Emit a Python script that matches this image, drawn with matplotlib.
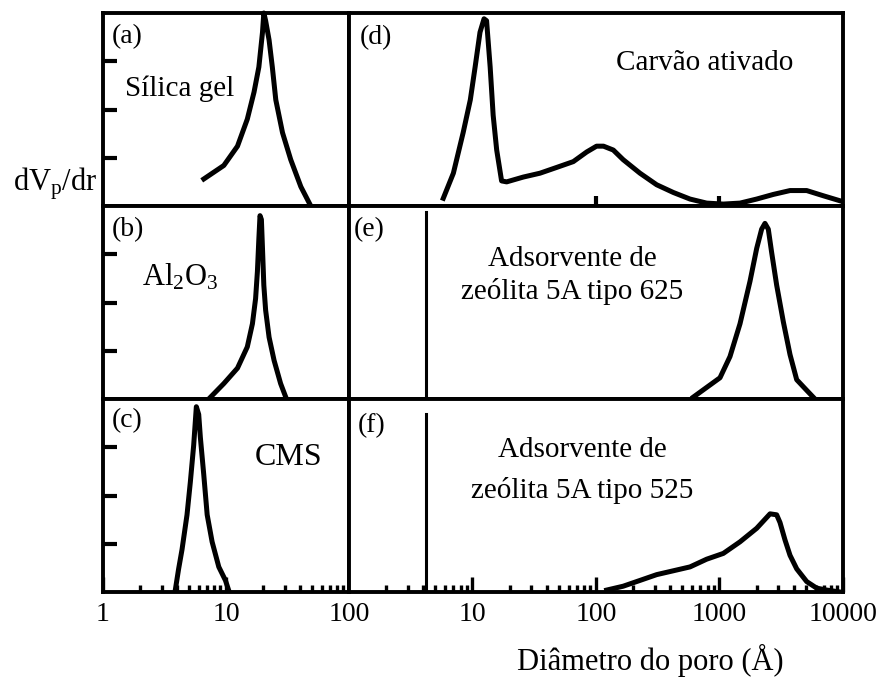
import matplotlib
matplotlib.use("Agg")
import matplotlib.pyplot as plt
from matplotlib.ticker import FixedLocator, NullFormatter, NullLocator

plt.rcParams["font.family"] = ["Liberation Serif", "DejaVu Serif"]
plt.rcParams["mathtext.fontset"] = "custom"
plt.rcParams["mathtext.rm"] = "Liberation Serif"
plt.rcParams["mathtext.it"] = "Liberation Serif"

# -----------------------------------------------------
# DATA (normalised dV/dr)
# -----------------------------------------------------

# (a) silica gel
a_x = [6.6, 9.6, 12.4, 14.9, 16.9, 18.5, 19.8, 20.3, 21.0, 22.4, 23.8, 25.4, 28.8, 33.6, 40.6, 48.9]
a_y = [0.14, 0.21, 0.31, 0.45, 0.59, 0.72, 0.90, 1.00, 0.96, 0.86, 0.72, 0.55, 0.38, 0.24, 0.10, 0.0]

# (b) Al2O3
b_x = [7.5, 9.6, 12.4, 14.9, 16.4, 17.4, 18.0, 18.5, 18.9, 19.4, 19.8, 20.3, 21.0, 22.4, 24.6, 27.8, 30.6]
b_y = [0.01, 0.08, 0.16, 0.27, 0.39, 0.52, 0.66, 0.83, 0.95, 0.93, 0.78, 0.59, 0.46, 0.32, 0.20, 0.08, 0.01]

# (c) CMS
c_x = [3.87, 4.12, 4.39, 4.82, 5.13, 5.46, 5.64, 5.74, 6.0, 6.19, 6.59, 7.03, 7.71, 8.74, 9.9, 10.5]
c_y = [0.01, 0.12, 0.22, 0.40, 0.57, 0.76, 0.89, 0.96, 0.92, 0.80, 0.61, 0.40, 0.26, 0.13, 0.06, 0.01]

# (d) activated carbon
d_x = [5.8, 7.0, 8.4, 9.6, 10.5, 11.5, 12.4, 13.0, 13.9, 14.7, 15.7, 17.2, 18.9, 25.8, 35.2,
       48.1, 65.5, 84.1, 101, 115, 138, 166, 227, 310, 423, 577, 787, 1074, 1466, 2000,
       2729, 3724, 5082, 6934, 9460]
d_y = [0.04, 0.17, 0.38, 0.55, 0.72, 0.90, 0.97, 0.96, 0.72, 0.47, 0.29, 0.13, 0.125, 0.15, 0.17,
       0.20, 0.23, 0.28, 0.31, 0.31, 0.29, 0.24, 0.17, 0.11, 0.07, 0.036, 0.015, 0.01, 0.015, 0.036,
       0.06, 0.08, 0.08, 0.053, 0.027]

# (e) zeolite 5A type 625
e_x = [614, 787, 1009, 1216, 1466, 1766, 2000, 2194, 2334, 2484, 2643, 2903, 3287, 3724, 4218, 5082, 5929]
e_y = [0.01, 0.06, 0.11, 0.22, 0.39, 0.61, 0.78, 0.88, 0.91, 0.88, 0.76, 0.59, 0.40, 0.23, 0.10, 0.045, 0.0]

# (f) zeolite 5A type 525
f_x = [122, 166, 227, 310, 423, 577, 787, 1074, 1466, 2000, 2566, 2903, 3090, 3390, 3724,
       4218, 5082, 6125, 7380, 9460]
f_y = [0.01, 0.03, 0.06, 0.09, 0.11, 0.13, 0.17, 0.20, 0.26, 0.33, 0.405, 0.40, 0.36, 0.27, 0.19,
       0.12, 0.054, 0.02, 0.01, 0.0]

# zeolite 5A pore line (e), (f)
zeo_pore = 4.2
e_line_top = 0.97
f_line_top = 0.92

# -----------------------------------------------------
# LAYOUT
# -----------------------------------------------------

W, H = 878, 681
fig = plt.figure(figsize=(W / 100, H / 100), dpi=100)

x_l, x_m, x_r = 103, 349, 843
row_top = [13, 206, 399]
row_h = 193

def make_ax(x0, x1, top):
    return fig.add_axes([x0 / W, 1 - (top + row_h) / H, (x1 - x0) / W, row_h / H])

axes = {}
for i, key in enumerate(["a", "b", "c"]):
    axes[key] = make_ax(x_l, x_m, row_top[i])
for i, key in enumerate(["d", "e", "f"]):
    axes[key] = make_ax(x_m, x_r, row_top[i])

for key, ax in axes.items():
    ax.set_xscale("log")
    ax.set_ylim(0, 1)
    if key in "abc":
        ax.set_xlim(1, 100)
    else:
        ax.set_xlim(1, 10000)
    for sp in ax.spines.values():
        sp.set_linewidth(2.8)
    ax.xaxis.set_major_locator(NullLocator())
    ax.xaxis.set_minor_locator(NullLocator())
    ax.xaxis.set_major_formatter(NullFormatter())
    ax.xaxis.set_minor_formatter(NullFormatter())
    ax.yaxis.set_major_locator(NullLocator())
    ax.yaxis.set_minor_locator(NullLocator())
    ax.tick_params(axis="both", which="major", direction="in", length=11, width=2.4)
    ax.tick_params(axis="both", which="minor", direction="in", length=5, width=2.4)
    ax.tick_params(axis="x", labelsize=20, pad=7)

# left y ticks
for key in "abc":
    axes[key].yaxis.set_major_locator(FixedLocator([0.25, 0.5, 0.75]))
    axes[key].tick_params(axis="y", which="major", length=10, width=3, labelleft=False)

# bottom x ticks
minor_left = [m * 10 ** k for k in range(0, 2) for m in range(2, 10)]
minor_right = [m * 10 ** k for k in range(0, 4) for m in range(2, 10)]

axes["c"].set_xticks([1, 10, 100])
axes["c"].set_xticklabels(["1", "10", "100"])
axes["c"].xaxis.set_minor_locator(FixedLocator(minor_left))

axes["f"].set_xticks([10, 100, 1000, 10000])
axes["f"].set_xticklabels(["10", "100", "1000", "10000"])
axes["f"].xaxis.set_minor_locator(FixedLocator(minor_right))

axes["d"].xaxis.set_major_locator(FixedLocator([100, 1000]))
axes["d"].tick_params(axis="x", which="major", length=7, width=3)

# -----------------------------------------------------
# CURVES
# -----------------------------------------------------

lw = 3.6
axes["a"].plot(a_x, a_y, color="black", lw=lw, clip_on=False)
axes["b"].plot(b_x, b_y, color="black", lw=lw)
axes["c"].plot(c_x, c_y, color="black", lw=lw)
axes["d"].plot(d_x, d_y, color="black", lw=lw)
axes["e"].plot(e_x, e_y, color="black", lw=lw)
axes["f"].plot(f_x, f_y, color="black", lw=lw)

axes["e"].plot([zeo_pore, zeo_pore], [0, e_line_top], color="black", lw=2.2)
axes["f"].plot([zeo_pore, zeo_pore], [0, f_line_top], color="black", lw=2.2)

# -----------------------------------------------------
# TEXT
# -----------------------------------------------------

fs_lab = 20
fs_txt = 21

for key, xy in [("a", (0.035, 0.88)), ("b", (0.035, 0.88)), ("c", (0.035, 0.89)),
                ("d", (0.022, 0.87)), ("e", (0.01, 0.88)), ("f", (0.018, 0.86))]:
    axes[key].text(xy[0], xy[1], f"({key})", transform=axes[key].transAxes,
                   fontsize=fs_lab, ha="left", va="center")

axes["a"].text(0.09, 0.61, "Sílica gel", transform=axes["a"].transAxes,
               fontsize=fs_txt, ha="left", va="center")
axes["b"].text(0.16, 0.63, r"Al$_2$O$_3$", transform=axes["b"].transAxes,
               fontsize=22, ha="left", va="center")
axes["c"].text(0.755, 0.695, "CMS", transform=axes["c"].transAxes,
               fontsize=23, ha="center", va="center")
axes["d"].text(0.54, 0.74, "Carvão ativado", transform=axes["d"].transAxes,
               fontsize=fs_txt, ha="left", va="center")
axes["e"].text(0.452, 0.64, "Adsorvente de\nzeólita 5A tipo 625", transform=axes["e"].transAxes,
               fontsize=fs_txt, ha="center", va="center", linespacing=1.26)
axes["f"].text(0.472, 0.63, "Adsorvente de\nzeólita 5A tipo 525", transform=axes["f"].transAxes,
               fontsize=fs_txt, ha="center", va="center", linespacing=1.68)

fig.text(97 / W, 1 - 184 / H, r"dV$_\mathrm{p}$/dr", fontsize=22, ha="right", va="center")
fig.text(650 / W, 1 - 660 / H, "Diâmetro do poro (Å)", fontsize=22, ha="center", va="center")

fig.savefig("out.png", dpi=100)
